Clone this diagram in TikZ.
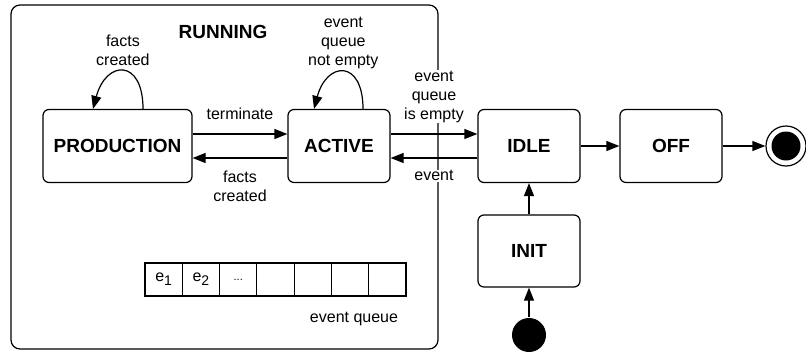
\documentclass[tikz,border=0pt]{standalone}
\usepackage{fontspec}
\setmainfont{Liberation Sans}
\usetikzlibrary{arrows.meta}

\newcommand{\qsub}[1]{\raisebox{-4pt}{\fontsize{14}{14}\selectfont #1}}
\newcommand{\qdots}{{\fontsize{11}{11}\selectfont .\kern0pt.\kern0pt.}}

\tikzset{
  state/.style={draw,rounded corners=6pt,minimum width=102pt,minimum height=73pt,
    font=\fontsize{19}{22}\selectfont\bfseries},
  lbl/.style={font=\fontsize{16}{19}\selectfont,align=center,fill=white,inner sep=1pt},
  cell/.style={draw,minimum width=37.3pt,minimum height=33pt,inner sep=0pt,
    font=\fontsize{16}{19}\selectfont},
}

\begin{document}
\begin{tikzpicture}[>={Triangle[length=13pt,width=10pt]},x=1pt,y=-1pt,line width=1.2pt]
\useasboundingbox (0,0) rectangle (806,351);
\node[draw,rounded corners=9pt,minimum width=427pt,minimum height=344pt] (running) at (224.5,177) {};
\node[font=\fontsize{19}{22}\selectfont\bfseries] (runlbl) at (223,32) {RUNNING};

\node[state,minimum width=149pt] (prod) at (117.5,146) {PRODUCTION};
\node[state] (act) at (339,146) {ACTIVE};
\node[state] (idle) at (529,146) {IDLE};
\node[state] (off) at (671,146) {OFF};
\node[state,minimum height=72pt] (init) at (529,251) {INIT};

\node[circle,fill,minimum size=34pt,inner sep=0pt] (start) at (529,335) {};
\node[circle,draw,minimum size=40pt,inner sep=0pt] (endring) at (786,146) {};
\node[circle,fill,minimum size=29pt,inner sep=0pt] (enddot) at (endring) {};

\draw[->] ([xshift=25.5pt]prod.north) to[out=90,in=75,looseness=2.6]
  node[lbl,above=4pt]{facts\\created} ([xshift=-24.5pt]prod.north);
\draw[->] ([xshift=24pt]act.north) to[out=90,in=75,looseness=2.6]
  node[lbl,above=2pt]{event\\queue\\not empty} ([xshift=-25pt]act.north);

\draw[->] ([yshift=12pt]prod.east) -- node[lbl,above=13pt]{terminate} ([yshift=12pt]act.west);
\draw[->] ([yshift=-12pt]act.west) -- node[lbl,below=11pt]{facts\\created} ([yshift=-12pt]prod.east);
\draw[->] ([yshift=12pt]act.east) -- node[lbl,above=10pt]{event\\queue\\is empty} ([yshift=12pt]idle.west);
\draw[->] ([yshift=-12pt]idle.west) -- node[lbl,below=11pt]{event} ([yshift=-12pt]act.east);
\draw[->] (idle) -- (off);
\draw[->] (off) -- (endring);
\draw[->] (init) -- (idle);
\draw[->] (start) -- (init);

\foreach \lab [count=\i] in {e\qsub{1},e\qsub{2},\qdots,{},{},{},{}}
  \node[cell] (q\i) at ({126.36+37.29*\i},279.5) {\lab};
\node[lbl] (qlbl) at (354,319) {event queue};
\end{tikzpicture}
\end{document}
